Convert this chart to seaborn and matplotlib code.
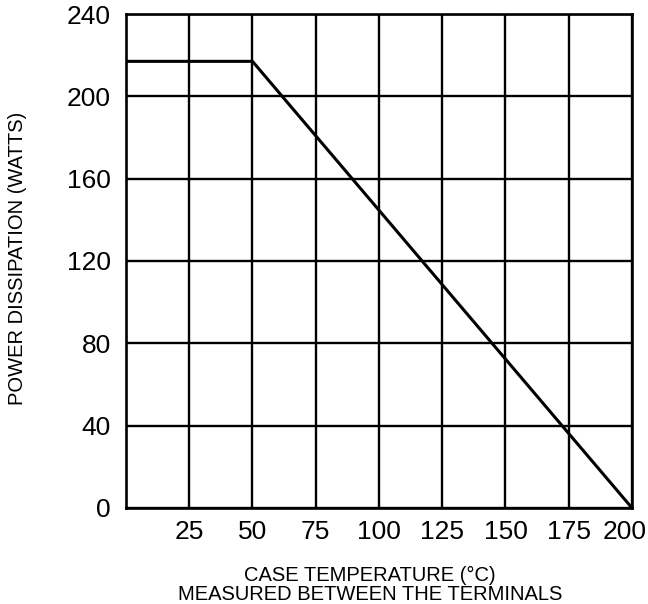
import matplotlib
matplotlib.use("Agg")
import matplotlib.pyplot as plt
import matplotlib.transforms as mtransforms
import seaborn as sns
import pandas as pd

case_temp = [0, 50, 200]
power_watts = [217, 217, 0]
x_ticks = [25, 50, 75, 100, 125, 150, 175, 200]
y_ticks = [0, 40, 80, 120, 160, 200, 240]

sns.set_theme(style="white")
plt.rcParams['font.family'] = ['Liberation Sans', 'DejaVu Sans']

df = pd.DataFrame({"temp": case_temp, "power": power_watts})

fig = plt.figure(figsize=(6.48, 6.04), dpi=100)
ax = fig.add_axes([0.1944, 0.159, 0.7809, 0.8178])

sns.lineplot(data=df, x="temp", y="power", ax=ax, color="black", linewidth=2.2, zorder=3)

ax.set_xlim(0, 200)
ax.set_ylim(0, 240)
ax.set_xticks(x_ticks)
ax.set_yticks(y_ticks)
ax.grid(True, color="black", linewidth=1.7)
for s in ax.spines.values():
    s.set_color("black")
    s.set_linewidth(1.9)
ax.tick_params(axis="both", length=0, labelsize=19, colors="black")
ax.tick_params(axis="x", pad=9)
ax.tick_params(axis="y", pad=11)

# nudge the last x tick label left so it fits inside the figure, as in the reference
last = ax.get_xticklabels()[-1]
last.set_transform(last.get_transform() + mtransforms.ScaledTranslation(-7 / 100, 0, fig.dpi_scale_trans))

ax.set_xlabel("CASE TEMPERATURE (°C)\nMEASURED BETWEEN THE TERMINALS", fontsize=14.5, color="black", linespacing=1.0)
ax.xaxis.set_label_coords(0.482, -0.117)
ax.set_ylabel("POWER DISSIPATION (WATTS)", fontsize=14.5, color="black")
ax.yaxis.set_label_coords(-0.1957, 0.506)

fig.savefig("out.png", dpi=100)
